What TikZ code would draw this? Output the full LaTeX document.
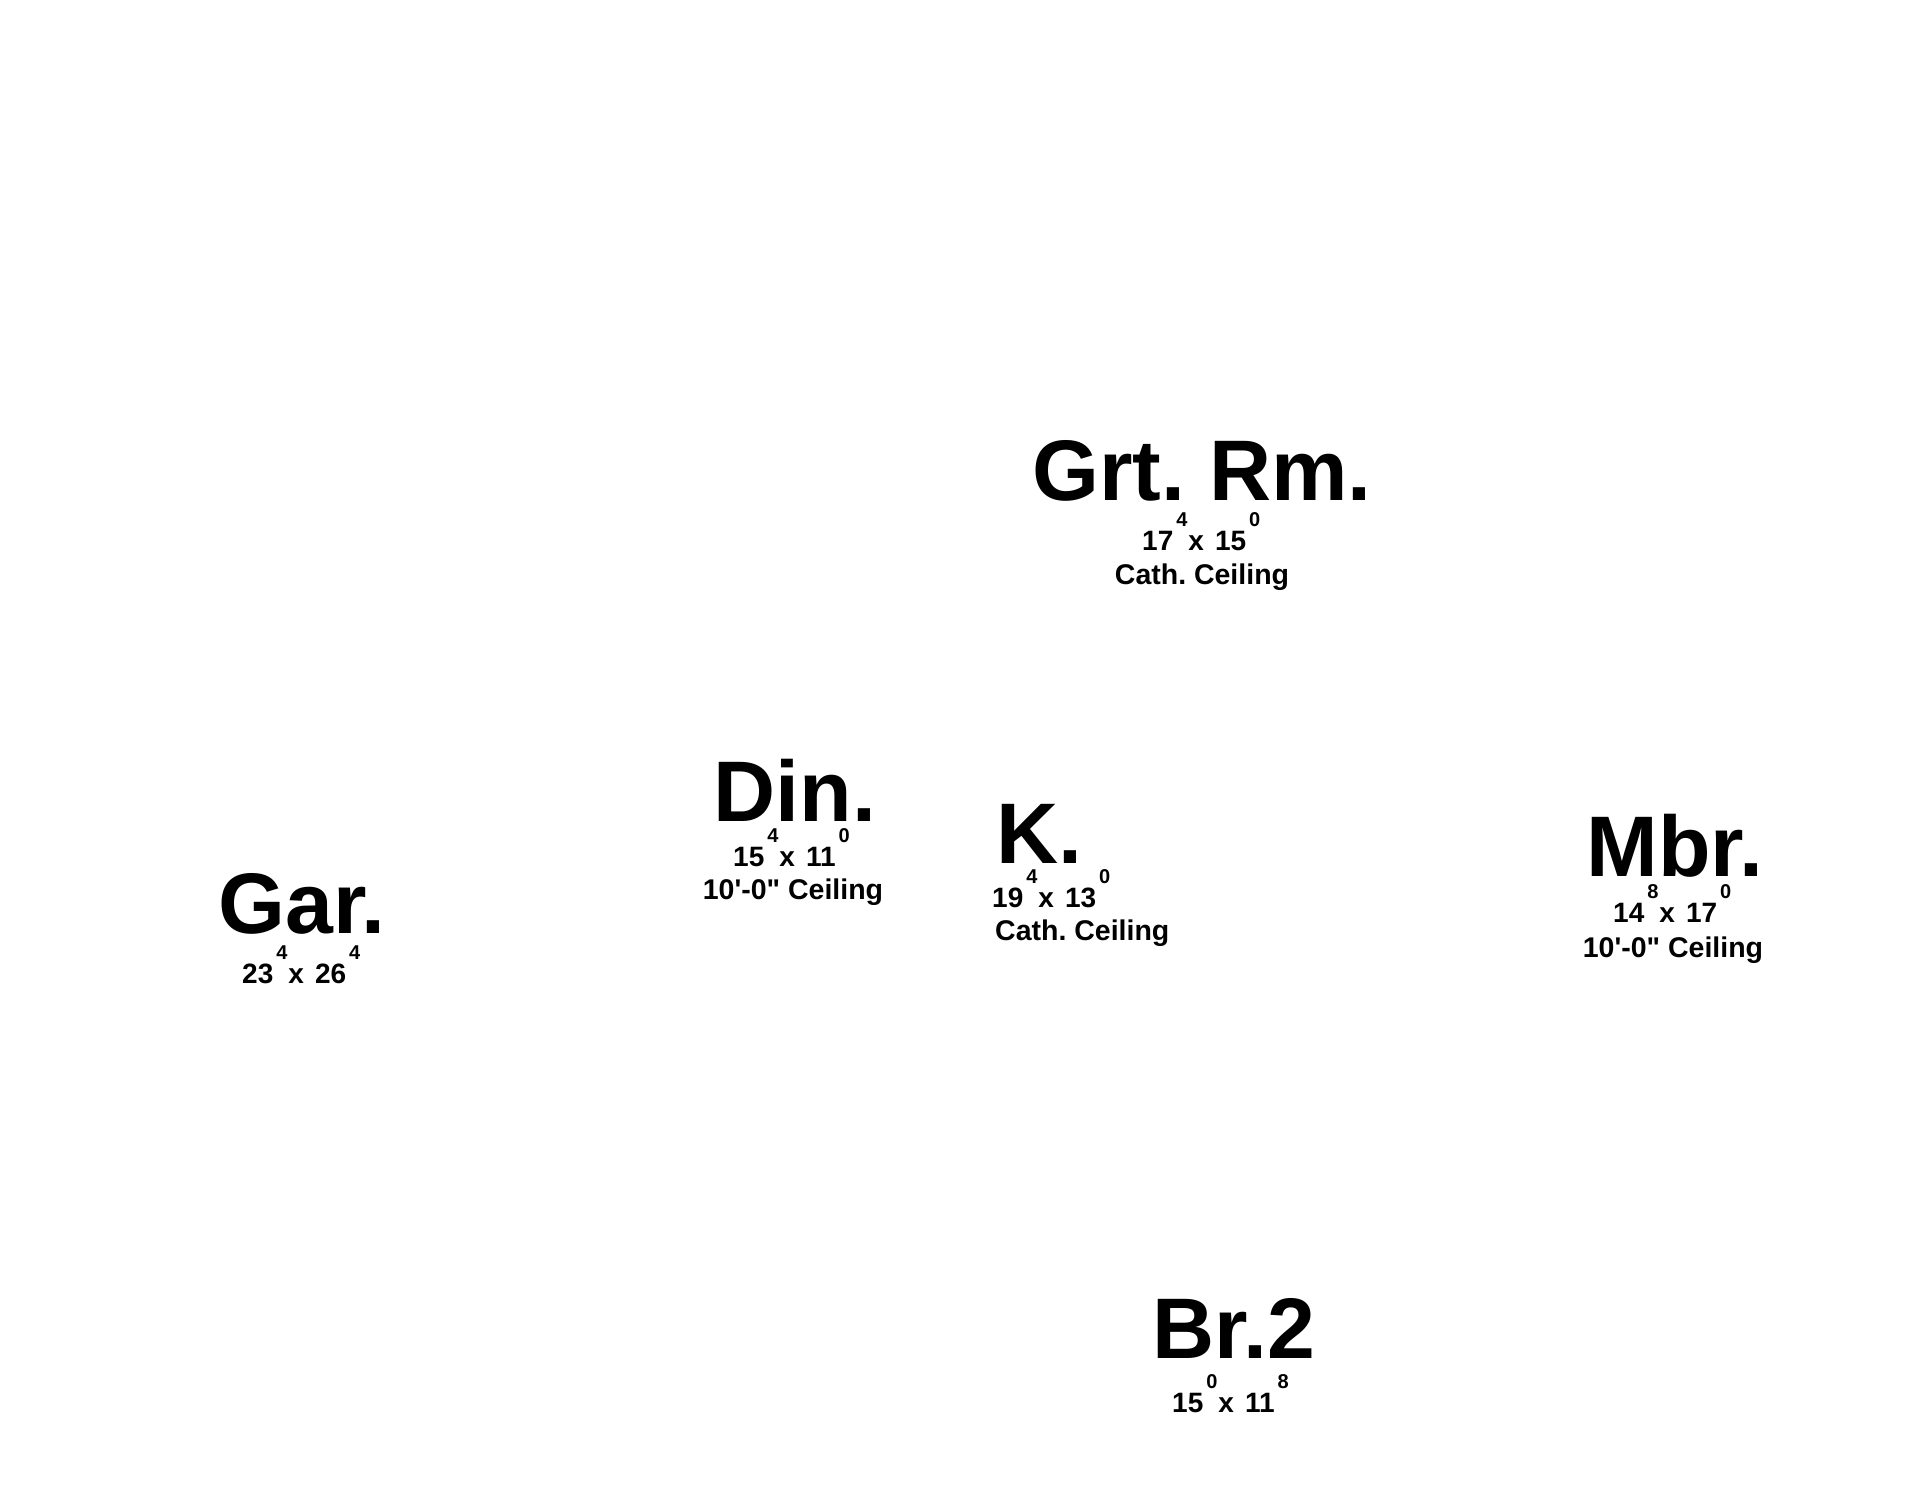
\documentclass[tikz,border=0pt]{standalone}
\usepackage{fontspec}
\setmainfont{Liberation Sans}
\frenchspacing
\newcommand\roomsz{\fontsize{86}{86}\selectfont\bfseries}
\newcommand\infosz{\fontsize{28.5}{28.5}\selectfont\bfseries}
\newcommand\dimsz{\fontsize{28}{28}\selectfont\bfseries}
\newcommand\supsz{\fontsize{20}{20}\selectfont\bfseries}
\newcommand\roomdim[4]{#1\kern3pt\raisebox{24pt}{\supsz #2}\kern1pt x\kern11pt #3\kern3pt\raisebox{24pt}{\supsz #4}}
\newcommand\tenft{10\textquotesingle-0\textquotedbl\ Ceiling}
\tikzset{
  roomname/.style={inner sep=0pt, anchor=base, font=\roomsz},
  roominfo/.style={inner sep=0pt, anchor=base, font=\infosz},
  roomsize/.style={inner sep=0pt, anchor=base west, font=\dimsz},
}
\begin{document}
\begin{tikzpicture}[x=1pt,y=-1pt]
\useasboundingbox[fill=white] (0,0) rectangle (1908,1509);
% Great room
\node[roomname] (grt) at (1202,500) {Grt. Rm.};
\node[roomsize] (grtdim) at (1142,550) {\roomdim{17}{4}{15}{0}};
\node[roominfo] (grtceil) at (1202,584) {Cath. Ceiling};
% Dining
\node[roomname] (din) at (795,821) {Din.};
\node[roomsize] (dindim) at (733,866) {\roomdim{15}{4}{11}{0}};
\node[roominfo] (dinceil) at (793,899) {\tenft};
% Garage
\node[roomname] (gar) at (302,933) {Gar.};
\node[roomsize] (gardim) at (242,983) {\roomdim{23}{4}{26}{4}};
% Kitchen
\node[roomname] (kit) at (1039,863) {K.};
\node[roomsize] (kitdim) at (992,907) {\roomdim{19}{4}{13}{0}};
\node[roominfo, anchor=base west] (kitceil) at (995,940) {Cath. Ceiling};
% Master bedroom
\node[roomname] (mbr) at (1675,876) {Mbr.};
\node[roomsize] (mbrdim) at (1613,922) {\roomdim{14}{8}{17}{0}};
\node[roominfo] (mbrceil) at (1673,957) {\tenft};
% Bedroom 2
\node[roomname] (br) at (1234,1358) {Br.2};
\node[roomsize] (brdim) at (1172,1412) {\roomdim{15}{0}{11}{8}};
\end{tikzpicture}
\end{document}
